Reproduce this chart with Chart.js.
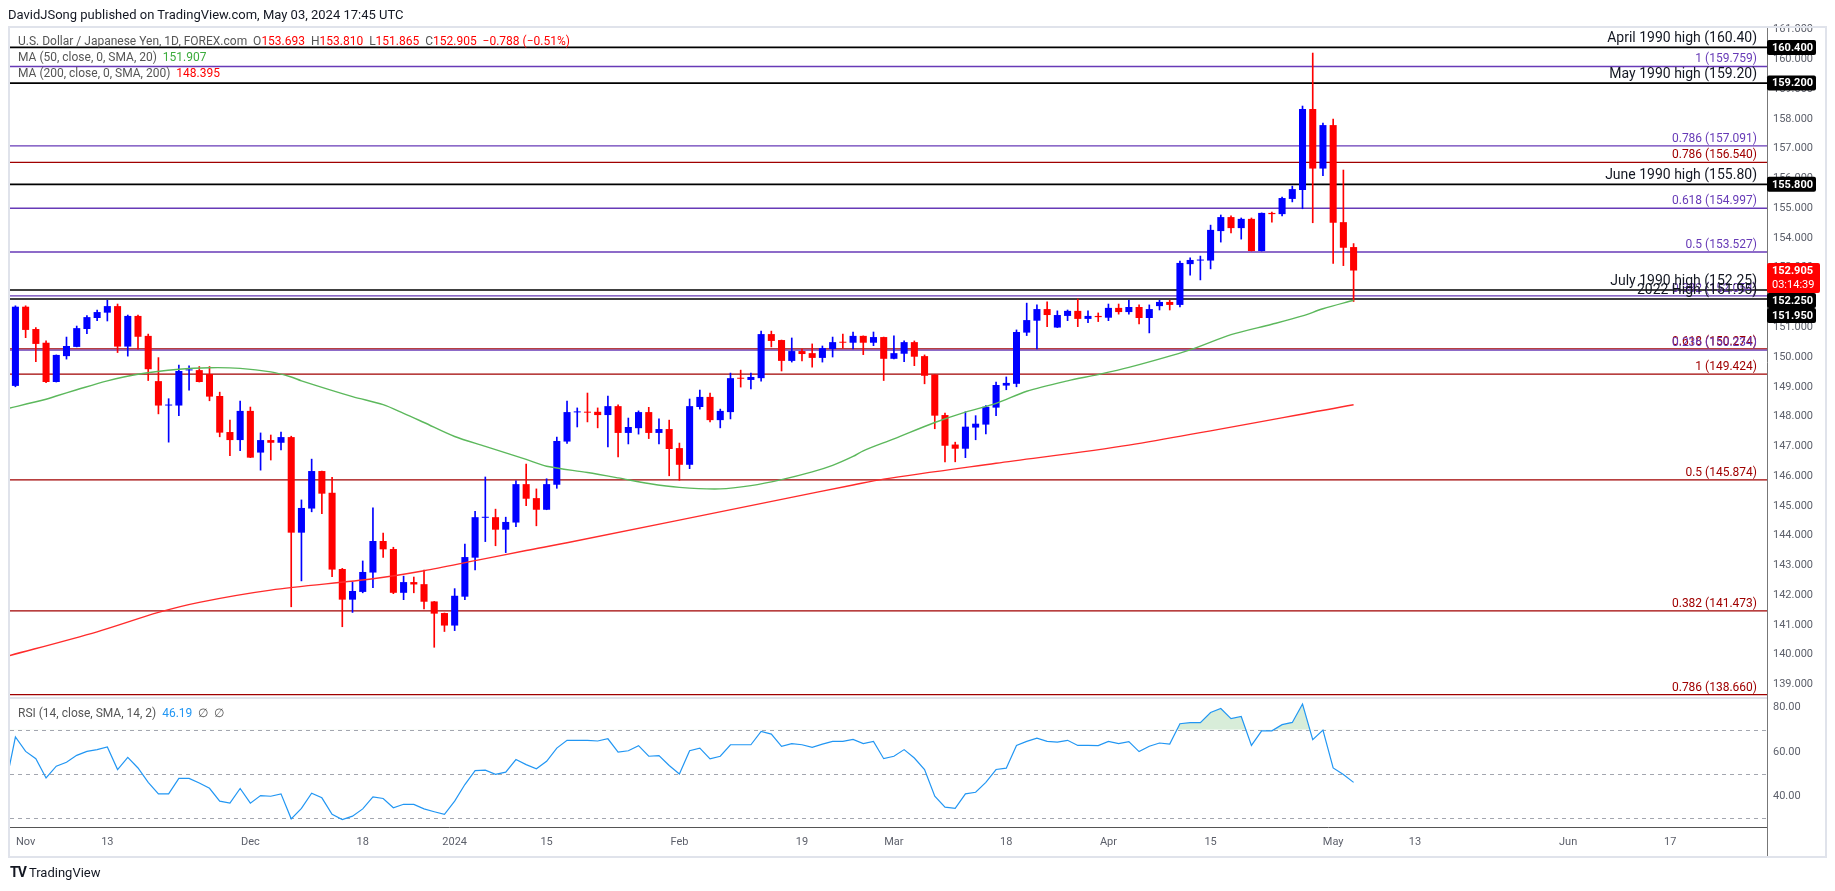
<!DOCTYPE html>
<html>
<head>
<meta charset="utf-8">
<script src="https://cdn.jsdelivr.net/npm/chart.js@4.4.1/dist/chart.umd.min.js"></script>
<style>
body { margin: 0; background: #fff; font-family: Roboto, sans-serif; }
#wrap { position: relative; width: 1835px; height: 891px; overflow: hidden; }
#chart { position: absolute; left: 0; top: 0; }
.txt { position: absolute; white-space: nowrap; font-size: 12px; color: #555; line-height: 16px; }
.dn { color: #f00; }
.up { color: #3cab3c; }
</style>
</head>
<body>
<div id="wrap">
<canvas id="chart" width="1835" height="891"></canvas>
<div class="txt" style="left:8px;top:7px;font-size:13px;color:#131722">DavidJSong published on TradingView.com, May 03, 2024 17:45 UTC</div>
<div class="txt" style="left:18px;top:33px">U.S. Dollar / Japanese Yen, 1D, FOREX.com&nbsp; O<span class="dn">153.693</span>&nbsp; H<span class="dn">153.810</span>&nbsp; L<span class="dn">151.865</span>&nbsp; C<span class="dn">152.905</span>&nbsp; <span class="dn">−0.788 (−0.51%)</span></div>
<div class="txt" style="left:18px;top:49px">MA (50, close, 0, SMA, 20)&nbsp; <span class="up">151.907</span></div>
<div class="txt" style="left:18px;top:65px">MA (200, close, 0, SMA, 200)&nbsp; <span class="dn">148.395</span></div>
<div class="txt" style="left:18px;top:705px">RSI (14, close, SMA, 14, 2)&nbsp; <span style="color:#2196f3">46.19</span>&nbsp; ∅&nbsp; ∅</div>
<div class="txt" style="left:10px;top:864px;font-size:13px;color:#131722"><b style="font-size:14px;letter-spacing:-1px">TV</b> TradingView</div>
</div>
<script>
// daily candles, Oct 31 2023 .. May 03 2024 (index 0 = Oct 31)
const open = [149.03,151.69,150.94,150.48,149.16,150.03,150.34,150.94,151.31,151.49,
  151.71,150.35,151.38,150.71,149.19,148.37,148.37,149.55,149.56,149.43,
  148.69,147.48,147.21,148.19,146.79,147.21,147.12,147.31,144.10,144.91,
  146.17,145.44,142.88,141.85,142.11,142.76,143.82,143.55,142.08,142.44,
  142.37,141.79,141.40,140.98,141.95,143.26,144.60,144.62,144.20,144.44,
  145.73,145.26,144.87,145.71,147.16,148.14,148.16,148.16,148.05,148.35,
  147.45,147.61,148.15,147.45,147.58,146.94,146.38,148.32,148.66,147.88,
  148.15,149.29,149.23,149.29,150.77,150.57,149.87,150.20,150.13,149.97,
  150.27,150.50,150.48,150.71,150.48,150.67,149.94,150.11,150.50,150.03,
  149.41,148.05,147.06,146.92,147.63,147.73,148.30,149.04,149.10,150.82,
  151.22,151.61,150.99,151.38,151.55,151.28,151.38,151.32,151.65,151.51,
  151.68,151.31,151.71,151.85,151.75,153.12,153.24,153.24,154.23,154.70,
  154.33,154.64,153.56,154.84,154.80,155.31,155.61,158.33,156.33,157.79,
  154.53,153.693];
const high = [151.72,151.72,150.99,150.54,150.07,150.67,151.04,151.39,151.58,151.91,
  151.78,151.41,151.41,150.77,149.98,148.60,149.73,149.70,149.68,149.68,
  148.82,147.88,148.52,148.32,147.45,147.38,147.48,147.34,145.20,146.57,
  146.17,145.96,142.90,142.44,143.15,144.93,144.09,143.61,142.64,142.61,
  142.84,141.79,141.40,142.22,143.72,144.82,145.97,144.89,144.62,145.84,
  146.40,145.57,145.91,147.31,148.52,148.29,148.79,148.29,148.69,148.39,
  147.95,148.19,148.31,147.92,147.88,147.11,148.59,148.89,148.79,148.25,
  149.46,149.56,149.46,150.87,150.87,150.57,150.64,150.27,150.44,150.37,
  150.67,150.77,150.84,150.71,150.84,150.67,150.71,150.54,150.54,150.07,
  149.41,148.12,147.14,148.16,148.03,148.37,149.16,149.33,150.91,151.81,
  151.75,151.85,151.55,151.58,151.95,151.55,151.48,151.78,151.78,151.91,
  151.75,151.75,151.91,151.91,153.22,153.33,153.39,154.43,154.77,154.74,
  154.67,154.67,154.84,154.87,155.37,155.74,158.43,160.21,157.86,157.99,
  156.28,153.81];
const low = [149.00,150.65,149.84,149.14,149.16,149.93,150.34,150.78,151.22,151.21,
  150.15,150.03,150.26,149.21,148.09,147.14,148.03,148.89,149.16,148.53,
  147.32,146.69,146.85,146.62,146.20,146.54,146.88,141.61,142.48,144.80,
  144.74,142.62,140.94,141.42,142.08,142.25,143.27,142.05,141.85,142.08,
  141.54,140.25,140.78,140.81,141.85,142.85,143.80,143.66,143.43,144.30,
  145.01,144.33,144.87,145.59,147.10,147.65,147.82,147.62,146.98,146.64,
  147.08,147.41,147.26,147.08,146.01,145.86,146.25,148.25,147.82,147.62,
  147.92,148.99,148.93,149.19,150.34,149.53,149.83,149.87,149.66,149.83,
  150.00,150.30,150.27,150.08,150.38,149.21,149.94,149.84,149.71,149.10,
  147.59,146.48,146.48,146.62,147.22,147.42,148.03,148.90,149.00,150.72,
  150.27,151.02,150.99,151.22,151.02,151.15,151.19,151.22,151.44,151.44,
  151.11,150.81,151.58,151.58,151.68,152.75,152.59,152.96,153.86,154.17,
  153.96,153.56,153.56,154.53,154.74,155.21,154.98,154.51,156.09,153.14,
  153.07,151.865];
const close = [151.69,150.91,150.44,149.16,150.07,150.37,150.97,151.34,151.51,151.71,
  150.35,151.38,150.68,149.59,148.37,148.39,149.53,149.57,149.16,148.67,
  147.46,147.21,148.19,146.62,147.21,147.12,147.31,144.10,144.93,146.17,
  145.41,142.86,141.85,142.14,142.78,143.82,143.54,142.08,142.44,142.36,
  141.78,141.38,140.98,141.98,143.28,144.62,144.62,144.20,144.46,145.73,
  145.24,144.87,145.73,147.18,148.15,148.16,148.13,148.05,148.35,147.45,
  147.65,148.15,147.45,147.58,146.91,146.38,148.35,148.66,147.88,148.19,
  149.29,149.27,149.33,150.77,150.54,149.87,150.20,150.10,149.97,150.30,
  150.50,150.48,150.71,150.48,150.67,149.94,150.13,150.50,150.01,149.37,
  148.03,147.02,146.92,147.66,147.76,148.33,149.06,149.13,150.84,151.24,
  151.61,151.41,151.41,151.55,151.28,151.38,151.34,151.65,151.51,151.68,
  151.31,151.61,151.85,151.75,153.16,153.26,153.26,154.27,154.70,154.33,
  154.64,153.56,154.84,154.80,155.34,155.64,158.33,156.33,157.79,154.51,
  153.67,152.905];

// RSI(14), first value is Oct 30 (index -1)
const rsi = [44.0,66.7,60.2,56.9,48.2,53.5,55.3,58.4,60.2,61.0,62.2,52.0,57.5,52.7,46.2,41.0,41.0,48.0,48.0,45.9,
  43.5,37.7,36.8,43.4,36.8,40.2,39.9,41.0,29.7,34.4,41.3,39.2,31.7,29.4,30.9,34.2,39.6,38.9,34.7,36.3,
  36.2,34.2,32.9,31.7,37.7,45.2,51.5,51.7,49.8,50.8,56.5,54.2,52.3,55.7,61.7,65.2,65.2,65.2,64.9,65.9,
  59.9,60.5,62.8,58.0,58.3,53.8,50.0,60.5,61.7,56.8,58.0,63.2,63.2,63.2,69.2,68.0,62.5,63.7,63.2,62.0,
  63.5,64.7,64.7,65.6,63.7,64.7,56.9,58.0,61.0,57.2,52.0,39.9,35.0,34.4,41.0,41.7,46.2,52.0,52.6,62.9,
  64.7,66.2,64.7,64.4,65.2,62.9,62.9,62.8,64.7,63.7,64.6,60.1,62.5,64.0,63.5,72.7,73.2,73.2,77.8,79.6,
  75.0,76.0,62.9,69.5,69.5,72.3,73.3,81.6,65.5,69.8,52.7,49.7,46.19];

// moving averages: [bar index, value]
const ma50 = [[-1,148.25],[3,148.58],[4,148.69],[6,148.9],[9,149.2],[12,149.42],[16,149.59],[19,149.64],
  [22,149.62],[25,149.5],[27,149.33],[28,149.2],[33,148.67],[36,148.4],[38,148.11],[40,147.8],[43,147.33],
  [46,147.0],[50,146.56],[52,146.33],[56,146.12],[59,145.94],[62,145.75],[65,145.62],[69,145.57],[72,145.68],
  [75,145.88],[78,146.14],[80,146.36],[82,146.66],[83,146.85],[86,147.25],[90,147.8],[93,148.15],[96,148.44],
  [99,148.85],[103,149.2],[106,149.41],[109,149.65],[115,150.24],[119,150.75],[123,151.1],[126,151.38],
  [128,151.62],[131,151.907]];
const ma200 = [[-1,139.93],[8,140.77],[14,141.42],[18,141.76],[25,142.17],[35,142.55],[40,142.82],[45,143.16],
  [50,143.5],[54,143.76],[75,145.22],[82,145.7],[85,145.9],[96,146.43],[109,147.04],[131,148.395]];

const tickIdx = [1, 9, 23, 34, 43, 52, 65, 77, 86, 97, 107, 117, 129, 137, 152, 162];
const tickText = ['Nov', '13', 'Dec', '18', '2024', '15', 'Feb', '19', 'Mar', '18', 'Apr', '15', 'May', '13', 'Jun', '17'];
const priceTicks = [139, 140, 141, 142, 143, 144, 145, 146, 147, 148, 149, 150, 151, 152, 153, 154, 155, 156, 157, 158, 159, 160, 161];
const rsiTicks = [40, 60, 80];
const rsiBands = [70, 50, 30];

const keyLevels = [160.40, 159.20, 155.80, 152.25, 151.95];
const keyNames = ['April 1990 high (160.40)', 'May 1990 high (159.20)', 'June 1990 high (155.80)', 'July 1990 high (152.25)', '2022 High (151.95)'];
const fibUp = [159.759, 157.091, 154.997, 153.527, 152.054, 150.234];
const fibUpRatio = ['1', '0.786', '0.618', '0.5', '0.382', '0.236'];
const fibDown = [156.540, 150.274, 149.424, 145.874, 141.473, 138.660];
const fibDownRatio = ['0.786', '0.618', '1', '0.5', '0.382', '0.786'];
const lastPrice = 152.905;
const countdown = '03:14:39';

const upColor = '#0000ff';
const downColor = '#ff0000';
const purple = '#673ab7';
const darkRed = '#a00000';

Chart.defaults.font.family = "Roboto, sans-serif";
Chart.defaults.color = '#5d606b';

const candleColors = close.map((c, i) => c >= open[i] ? upColor : downColor);

const levelsPlugin = {
    id: 'levels',
    beforeDraw(chart) {
        const {ctx} = chart;
        ctx.save();
        ctx.fillStyle = '#fff';
        ctx.fillRect(0, 0, chart.width, chart.height);
        ctx.restore();
    },
    beforeDatasetsDraw(chart) {
        const {ctx, chartArea: a, scales} = chart;
        const y = scales.y, r = scales.y2;
        ctx.save();
        // pane separator
        ctx.strokeStyle = '#e0e3eb';
        ctx.lineWidth = 2;
        ctx.beginPath();
        ctx.moveTo(a.left, y.bottom + 1);
        ctx.lineTo(a.right, y.bottom + 1);
        ctx.stroke();
        // rsi bands
        ctx.setLineDash([4, 4]);
        ctx.strokeStyle = '#a3a6af';
        ctx.lineWidth = 1;
        for (const v of rsiBands) {
            const py = Math.round(r.getPixelForValue(v)) + 0.5;
            ctx.beginPath();
            ctx.moveTo(a.left, py);
            ctx.lineTo(a.right, py);
            ctx.stroke();
        }
        ctx.setLineDash([]);
        const hline = (v, color, w) => {
            const py = y.getPixelForValue(v);
            ctx.strokeStyle = color;
            ctx.lineWidth = w;
            ctx.beginPath();
            ctx.moveTo(a.left, py);
            ctx.lineTo(a.right, py);
            ctx.stroke();
        };
        fibDown.forEach(v => hline(v, darkRed, 1.3));
        fibUp.forEach(v => hline(v, purple, 1.3));
        keyLevels.forEach(v => hline(v, '#000', 1.6));
        ctx.restore();
    },
    afterDraw(chart) {
        const {ctx, chartArea: a, scales} = chart;
        const y = scales.y;
        ctx.save();
        // level labels
        ctx.textAlign = 'right';
        ctx.textBaseline = 'alphabetic';
        const tx = a.right - 10;
        ctx.font = '12px Roboto, sans-serif';
        fibDown.forEach((v, i) => {
            ctx.fillStyle = darkRed;
            ctx.fillText(fibDownRatio[i] + ' (' + v.toFixed(3) + ')', tx, y.getPixelForValue(v) - 4);
        });
        fibUp.forEach((v, i) => {
            ctx.fillStyle = purple;
            ctx.fillText(fibUpRatio[i] + ' (' + v.toFixed(3) + ')', tx, y.getPixelForValue(v) - 4);
        });
        ctx.font = '14px Roboto, sans-serif';
        ctx.fillStyle = '#131722';
        keyLevels.forEach((v, i) => ctx.fillText(keyNames[i], tx, y.getPixelForValue(v) - 5));

        // price tags on the axis
        const tags = [{v: lastPrice, h: 30, off: 7.5, color: '#ff0000', lines: [lastPrice.toFixed(3), countdown]}];
        keyLevels.forEach(v => tags.push({v, h: 15, off: 7.5, color: '#000', lines: [v.toFixed(3)]}));
        tags.forEach(t => { t.top = y.getPixelForValue(t.v) - t.off; });
        tags.sort((p, q) => p.top - q.top);
        for (let i = 1; i < tags.length; i++) {
            const prev = tags[i - 1];
            if (tags[i].top < prev.top + prev.h) tags[i].top = prev.top + prev.h;
        }
        ctx.textAlign = 'left';
        ctx.textBaseline = 'middle';
        for (const t of tags) {
            ctx.fillStyle = t.color;
            ctx.beginPath();
            ctx.roundRect(a.right, t.top, t.lines.length > 1 ? 53 : 49, t.h, 2);
            ctx.fill();
            ctx.fillStyle = '#fff';
            t.lines.forEach((s, k) => {
                ctx.font = (k === 0 ? 'bold ' : '') + '11px Roboto, sans-serif';
                ctx.fillText(s, a.right + 5, t.top + 8 + k * 14);
            });
        }

        // outer frame
        ctx.strokeStyle = '#e0e3eb';
        ctx.lineWidth = 2;
        ctx.strokeRect(9, 27, 1817, 830);
        ctx.strokeStyle = '#777';
        ctx.lineWidth = 1;
        ctx.beginPath();
        ctx.moveTo(a.right + 0.5, a.bottom);
        ctx.lineTo(a.right + 0.5, 856);
        ctx.stroke();
        ctx.restore();
    }
};

const chart = new Chart(document.getElementById('chart'), {
    type: 'bar',
    data: {
        datasets: [
            {
                type: 'line', label: 'MA50', yAxisID: 'y', order: 0,
                data: ma50.map(p => ({x: p[0], y: p[1]})),
                borderColor: '#5cb85c', borderWidth: 1.4, pointRadius: 0, tension: 0.3
            },
            {
                type: 'line', label: 'MA200', yAxisID: 'y', order: 0,
                data: ma200.map(p => ({x: p[0], y: p[1]})),
                borderColor: '#ff2b2b', borderWidth: 1.4, pointRadius: 0, tension: 0.3
            },
            {
                type: 'line', label: 'RSI', yAxisID: 'y2', order: 0,
                data: rsi.map((v, k) => ({x: k - 1, y: v})),
                borderColor: '#2196f3', borderWidth: 1.2, pointRadius: 0,
                fill: {target: {value: 70}, above: 'rgba(76,175,80,0.22)', below: 'rgba(0,0,0,0)'}
            },
            {
                label: 'body', yAxisID: 'y', order: 1, grouped: false,
                data: open.map((o, i) => ({x: i, y: [o, close[i]]})),
                backgroundColor: candleColors, barPercentage: 0.69, categoryPercentage: 1, minBarLength: 1
            },
            {
                label: 'wick', yAxisID: 'y', order: 2, grouped: false,
                data: open.map((o, i) => ({x: i, y: [low[i], high[i]]})),
                backgroundColor: candleColors, barThickness: 1
            }
        ]
    },
    options: {
        responsive: false,
        animation: false,
        devicePixelRatio: 1,
        layout: {padding: {top: 27, left: 10, right: 0, bottom: 33}},
        plugins: {legend: {display: false}, tooltip: {enabled: false}},
        scales: {
            x: {
                type: 'linear', min: -0.53, max: 171.47, offset: false,
                grid: {display: false, drawTicks: false, offset: false},
                border: {color: '#555'},
                ticks: {
                    autoSkip: false, maxRotation: 0, padding: 9, font: {size: 11},
                    callback: v => { const k = tickIdx.indexOf(v); return k < 0 ? '' : tickText[k]; }
                },
                afterBuildTicks: s => { s.ticks = tickIdx.map(v => ({value: v})); },
                afterFit: s => { s.height = 31; }
            },
            y: {
                type: 'linear', axis: 'y', position: 'right', stack: 'pane', stackWeight: 670,
                min: 138.58, max: 161.085, beginAtZero: false,
                grid: {display: false, drawTicks: false},
                border: {color: '#777'},
                ticks: {autoSkip: false, padding: 6, font: {size: 11}, callback: v => v.toFixed(3)},
                afterBuildTicks: s => { s.ticks = priceTicks.map(v => ({value: v})); },
                afterFit: s => { s.width = 68; }
            },
            y2: {
                type: 'linear', axis: 'y', position: 'right', stack: 'pane', stackWeight: 130,
                min: 26, max: 84.8, beginAtZero: false,
                grid: {display: false, drawTicks: false},
                border: {color: '#777'},
                ticks: {autoSkip: false, padding: 6, font: {size: 11}, callback: v => v.toFixed(2)},
                afterBuildTicks: s => { s.ticks = rsiTicks.map(v => ({value: v})); },
                afterFit: s => { s.width = 68; }
            }
        }
    },
    plugins: [levelsPlugin]
});
</script>
</body>
</html>
